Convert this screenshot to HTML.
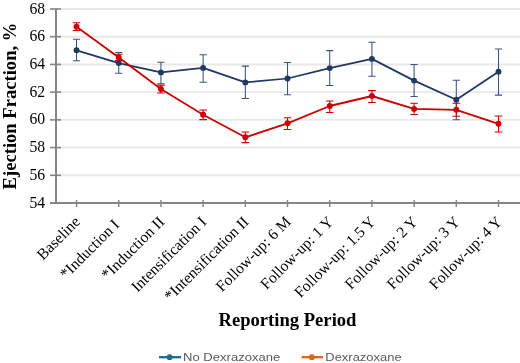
<!DOCTYPE html>
<html><head><meta charset="utf-8"><style>
html,body{margin:0;padding:0;background:#fff;width:520px;height:363px;overflow:hidden}
svg{display:block;filter:blur(0.3px)}
.yl{font-family:"Liberation Serif",serif;font-size:15.7px;fill:#000}
.xl{font-family:"Liberation Serif",serif;font-size:15.6px;fill:#000}
.yt{font-family:"Liberation Serif",serif;font-size:18.6px;font-weight:bold;fill:#000}
.xt{font-family:"Liberation Serif",serif;font-size:18.6px;font-weight:bold;fill:#000}
.lg{font-family:"Liberation Sans",sans-serif;font-size:11.4px;fill:#595959}
</style></head><body>
<svg width="520" height="363" viewBox="0 0 520 363">
<rect width="520" height="363" fill="#fff"/>
<line x1="57" y1="9.00" x2="520" y2="9.00" stroke="#e8e8e8" stroke-width="1.9"/>
<line x1="57" y1="36.71" x2="520" y2="36.71" stroke="#e8e8e8" stroke-width="1.9"/>
<line x1="57" y1="64.43" x2="520" y2="64.43" stroke="#e8e8e8" stroke-width="1.9"/>
<line x1="57" y1="92.14" x2="520" y2="92.14" stroke="#e8e8e8" stroke-width="1.9"/>
<line x1="57" y1="119.86" x2="520" y2="119.86" stroke="#e8e8e8" stroke-width="1.9"/>
<line x1="57" y1="147.57" x2="520" y2="147.57" stroke="#e8e8e8" stroke-width="1.9"/>
<line x1="57" y1="175.29" x2="520" y2="175.29" stroke="#e8e8e8" stroke-width="1.9"/>
<line x1="56" y1="9.00" x2="56" y2="203" stroke="#858585" stroke-width="2"/>
<line x1="50" y1="9.00" x2="61" y2="9.00" stroke="#858585" stroke-width="1.6"/>
<line x1="50" y1="36.71" x2="61" y2="36.71" stroke="#858585" stroke-width="1.6"/>
<line x1="50" y1="64.43" x2="61" y2="64.43" stroke="#858585" stroke-width="1.6"/>
<line x1="50" y1="92.14" x2="61" y2="92.14" stroke="#858585" stroke-width="1.6"/>
<line x1="50" y1="119.86" x2="61" y2="119.86" stroke="#858585" stroke-width="1.6"/>
<line x1="50" y1="147.57" x2="61" y2="147.57" stroke="#858585" stroke-width="1.6"/>
<line x1="50" y1="175.29" x2="61" y2="175.29" stroke="#858585" stroke-width="1.6"/>
<line x1="50" y1="203.00" x2="61" y2="203.00" stroke="#858585" stroke-width="1.6"/>
<line x1="50" y1="203" x2="520" y2="203" stroke="#858585" stroke-width="2"/>
<line x1="76.55" y1="200" x2="76.55" y2="207" stroke="#858585" stroke-width="1.4"/>
<line x1="118.75" y1="200" x2="118.75" y2="207" stroke="#858585" stroke-width="1.4"/>
<line x1="160.94" y1="200" x2="160.94" y2="207" stroke="#858585" stroke-width="1.4"/>
<line x1="203.13" y1="200" x2="203.13" y2="207" stroke="#858585" stroke-width="1.4"/>
<line x1="245.33" y1="200" x2="245.33" y2="207" stroke="#858585" stroke-width="1.4"/>
<line x1="287.52" y1="200" x2="287.52" y2="207" stroke="#858585" stroke-width="1.4"/>
<line x1="329.72" y1="200" x2="329.72" y2="207" stroke="#858585" stroke-width="1.4"/>
<line x1="371.92" y1="200" x2="371.92" y2="207" stroke="#858585" stroke-width="1.4"/>
<line x1="414.11" y1="200" x2="414.11" y2="207" stroke="#858585" stroke-width="1.4"/>
<line x1="456.31" y1="200" x2="456.31" y2="207" stroke="#858585" stroke-width="1.4"/>
<line x1="498.50" y1="200" x2="498.50" y2="207" stroke="#858585" stroke-width="1.4"/>
<text x="45.2" y="13.60" text-anchor="end" class="yl">68</text>
<text x="45.2" y="41.31" text-anchor="end" class="yl">66</text>
<text x="45.2" y="69.03" text-anchor="end" class="yl">64</text>
<text x="45.2" y="96.74" text-anchor="end" class="yl">62</text>
<text x="45.2" y="124.46" text-anchor="end" class="yl">60</text>
<text x="45.2" y="152.17" text-anchor="end" class="yl">58</text>
<text x="45.2" y="179.89" text-anchor="end" class="yl">56</text>
<text x="45.2" y="207.60" text-anchor="end" class="yl">54</text>
<path d="M76.55 39.30V60.80M72.95 39.30H80.15M72.95 60.80H80.15" stroke="#3b5383" stroke-width="1.05" fill="none"/>
<path d="M118.75 52.50V73.30M115.15 52.50H122.34M115.15 73.30H122.34" stroke="#3b5383" stroke-width="1.05" fill="none"/>
<path d="M160.94 62.30V83.70M157.34 62.30H164.54M157.34 83.70H164.54" stroke="#3b5383" stroke-width="1.05" fill="none"/>
<path d="M203.13 54.80V82.30M199.53 54.80H206.73M199.53 82.30H206.73" stroke="#3b5383" stroke-width="1.05" fill="none"/>
<path d="M245.33 66.10V98.50M241.73 66.10H248.93M241.73 98.50H248.93" stroke="#3b5383" stroke-width="1.05" fill="none"/>
<path d="M287.52 62.40V94.70M283.92 62.40H291.12M283.92 94.70H291.12" stroke="#3b5383" stroke-width="1.05" fill="none"/>
<path d="M329.72 50.60V85.40M326.12 50.60H333.32M326.12 85.40H333.32" stroke="#3b5383" stroke-width="1.05" fill="none"/>
<path d="M371.92 42.30V76.30M368.31 42.30H375.52M368.31 76.30H375.52" stroke="#3b5383" stroke-width="1.05" fill="none"/>
<path d="M414.11 64.50V96.40M410.51 64.50H417.71M410.51 96.40H417.71" stroke="#3b5383" stroke-width="1.05" fill="none"/>
<path d="M456.31 80.30V119.70M452.70 80.30H459.91M452.70 119.70H459.91" stroke="#3b5383" stroke-width="1.05" fill="none"/>
<path d="M498.50 49.00V95.10M494.90 49.00H502.10M494.90 95.10H502.10" stroke="#3b5383" stroke-width="1.05" fill="none"/>
<path d="M76.55 22.70V30.40M72.75 22.70H80.35M72.75 30.40H80.35" stroke="#cc0000" stroke-width="1.05" fill="none"/>
<path d="M118.75 54.30V60.60M114.95 54.30H122.55M114.95 60.60H122.55" stroke="#cc0000" stroke-width="1.05" fill="none"/>
<path d="M160.94 85.10V93.00M157.14 85.10H164.74M157.14 93.00H164.74" stroke="#cc0000" stroke-width="1.05" fill="none"/>
<path d="M203.13 109.90V119.60M199.33 109.90H206.94M199.33 119.60H206.94" stroke="#cc0000" stroke-width="1.05" fill="none"/>
<path d="M245.33 131.90V142.60M241.53 131.90H249.13M241.53 142.60H249.13" stroke="#cc0000" stroke-width="1.05" fill="none"/>
<path d="M287.52 117.80V129.50M283.72 117.80H291.32M283.72 129.50H291.32" stroke="#cc0000" stroke-width="1.05" fill="none"/>
<path d="M329.72 100.90V112.40M325.92 100.90H333.52M325.92 112.40H333.52" stroke="#cc0000" stroke-width="1.05" fill="none"/>
<path d="M371.92 90.60V102.40M368.12 90.60H375.72M368.12 102.40H375.72" stroke="#cc0000" stroke-width="1.05" fill="none"/>
<path d="M414.11 103.30V114.50M410.31 103.30H417.91M410.31 114.50H417.91" stroke="#cc0000" stroke-width="1.05" fill="none"/>
<path d="M456.31 103.30V116.20M452.50 103.30H460.11M452.50 116.20H460.11" stroke="#cc0000" stroke-width="1.05" fill="none"/>
<path d="M498.50 115.90V132.00M494.70 115.90H502.30M494.70 132.00H502.30" stroke="#cc0000" stroke-width="1.05" fill="none"/>
<polyline points="76.55,50.30 118.75,63.10 160.94,72.40 203.13,67.90 245.33,82.40 287.52,78.50 329.72,68.10 371.92,58.90 414.11,80.60 456.31,99.80 498.50,71.80" fill="none" stroke="#203864" stroke-width="1.75" stroke-linejoin="round"/>
<circle cx="76.55" cy="50.30" r="2.95" fill="#203864"/>
<circle cx="118.75" cy="63.10" r="2.95" fill="#203864"/>
<circle cx="160.94" cy="72.40" r="2.95" fill="#203864"/>
<circle cx="203.13" cy="67.90" r="2.95" fill="#203864"/>
<circle cx="245.33" cy="82.40" r="2.95" fill="#203864"/>
<circle cx="287.52" cy="78.50" r="2.95" fill="#203864"/>
<circle cx="329.72" cy="68.10" r="2.95" fill="#203864"/>
<circle cx="371.92" cy="58.90" r="2.95" fill="#203864"/>
<circle cx="414.11" cy="80.60" r="2.95" fill="#203864"/>
<circle cx="456.31" cy="99.80" r="2.95" fill="#203864"/>
<circle cx="498.50" cy="71.80" r="2.95" fill="#203864"/>
<polyline points="76.55,26.70 118.75,57.40 160.94,89.00 203.13,114.80 245.33,137.30 287.52,123.30 329.72,106.00 371.92,96.00 414.11,108.90 456.31,109.80 498.50,123.80" fill="none" stroke="#cc0000" stroke-width="1.85" stroke-linejoin="round"/>
<circle cx="76.55" cy="26.70" r="2.95" fill="#cc0000"/>
<circle cx="118.75" cy="57.40" r="2.95" fill="#cc0000"/>
<circle cx="160.94" cy="89.00" r="2.95" fill="#cc0000"/>
<circle cx="203.13" cy="114.80" r="2.95" fill="#cc0000"/>
<circle cx="245.33" cy="137.30" r="2.95" fill="#cc0000"/>
<circle cx="287.52" cy="123.30" r="2.95" fill="#cc0000"/>
<circle cx="329.72" cy="106.00" r="2.95" fill="#cc0000"/>
<circle cx="371.92" cy="96.00" r="2.95" fill="#cc0000"/>
<circle cx="414.11" cy="108.90" r="2.95" fill="#cc0000"/>
<circle cx="456.31" cy="109.80" r="2.95" fill="#cc0000"/>
<circle cx="498.50" cy="123.80" r="2.95" fill="#cc0000"/>
<text transform="translate(80.95,222.7) rotate(-45)" text-anchor="end" class="xl">Baseline</text>
<text transform="translate(120.15,225.6) rotate(-45)" text-anchor="end" class="xl">*Induction I</text>
<text transform="translate(165.34,222.7) rotate(-45)" text-anchor="end" class="xl">*Induction II</text>
<text transform="translate(207.53,222.7) rotate(-45)" text-anchor="end" class="xl">Intensification I</text>
<text transform="translate(249.73,222.7) rotate(-45)" text-anchor="end" class="xl">*Intensification II</text>
<text transform="translate(291.92,222.7) rotate(-45)" text-anchor="end" class="xl">Follow-up: 6 M</text>
<text transform="translate(334.12,222.7) rotate(-45)" text-anchor="end" class="xl">Follow-up: 1 Y</text>
<text transform="translate(376.31,222.7) rotate(-45)" text-anchor="end" class="xl">Follow-up: 1.5 Y</text>
<text transform="translate(418.51,222.7) rotate(-45)" text-anchor="end" class="xl">Follow-up: 2 Y</text>
<text transform="translate(460.70,222.7) rotate(-45)" text-anchor="end" class="xl">Follow-up: 3 Y</text>
<text transform="translate(502.90,222.7) rotate(-45)" text-anchor="end" class="xl">Follow-up: 4 Y</text>
<text transform="translate(16,106) rotate(-90)" text-anchor="middle" class="yt">Ejection Fraction, %</text>
<text x="287.5" y="325.5" text-anchor="middle" class="xt">Reporting Period</text>
<line x1="159" y1="357.2" x2="181" y2="357.2" stroke="#1b6d86" stroke-width="2.3"/>
<circle cx="169.6" cy="357.2" r="2.9" fill="#1b6d86"/>
<text x="183" y="360.8" class="lg" textLength="97.3" lengthAdjust="spacingAndGlyphs">No Dexrazoxane</text>
<line x1="301.5" y1="357.2" x2="323" y2="357.2" stroke="#d9661a" stroke-width="2.3"/>
<circle cx="311.8" cy="357.2" r="2.9" fill="#d9661a"/>
<text x="325.3" y="360.8" class="lg" textLength="76.3" lengthAdjust="spacingAndGlyphs">Dexrazoxane</text>
</svg>
</body></html>
